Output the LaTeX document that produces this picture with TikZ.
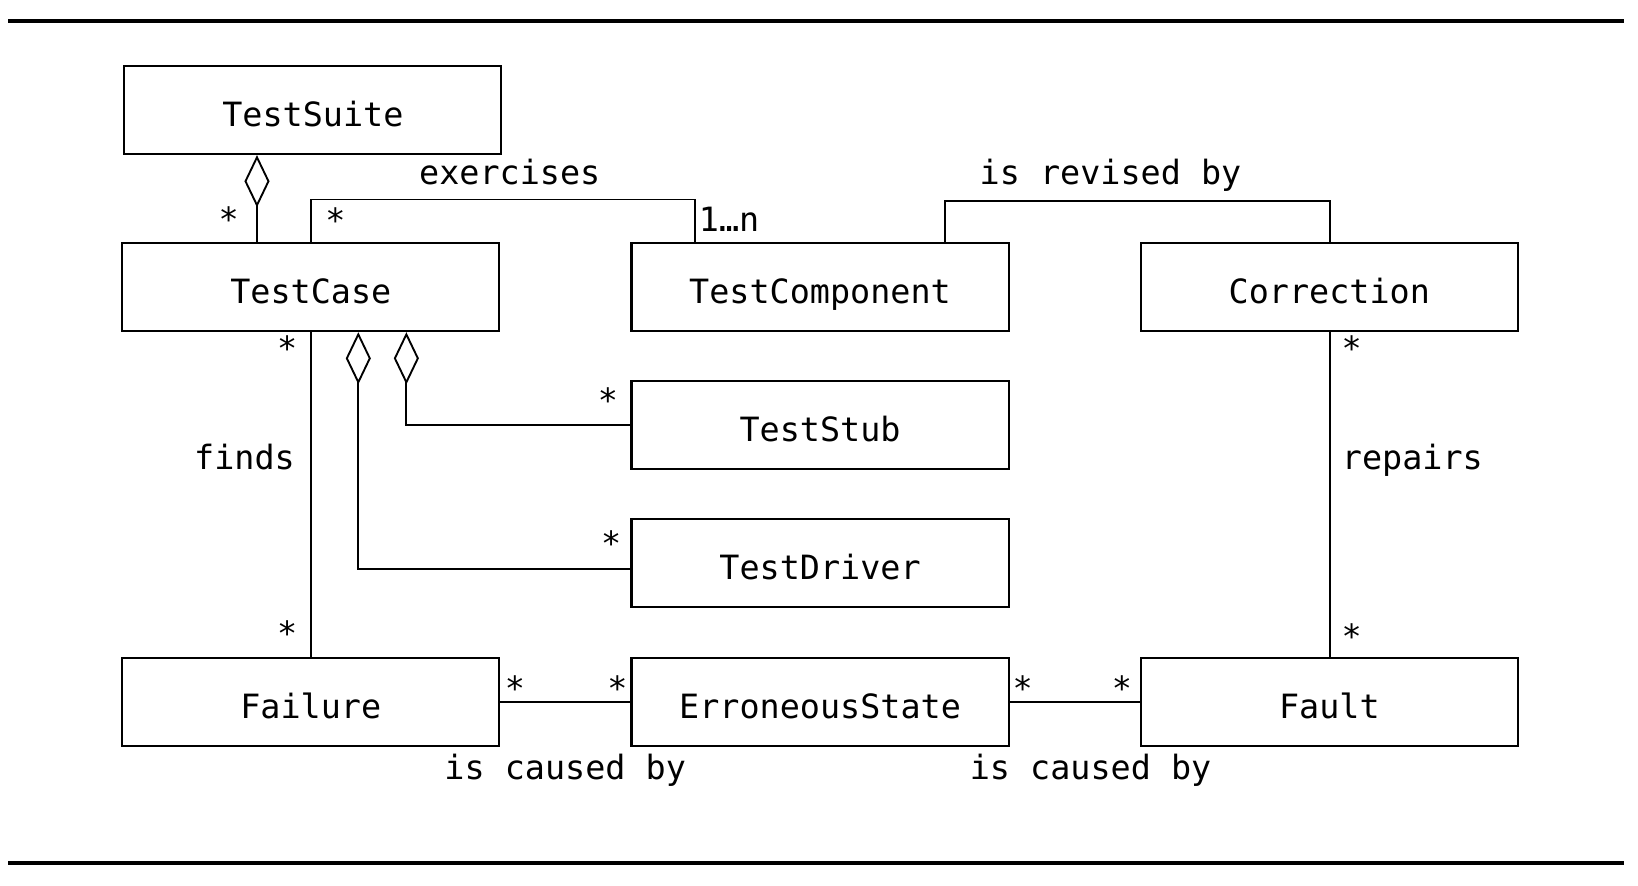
\documentclass[tikz,border=0pt]{standalone}
\usepackage{fontspec}
\setmonofont{DejaVu Sans Mono}
\usetikzlibrary{arrows.meta,calc}
\begin{document}
\begin{tikzpicture}[x=0.5pt,y=-0.5pt,
  every node/.style={font=\ttfamily\fontsize{16}{19}\selectfont},
  box/.style={draw,line width=1pt,minimum width=180.5pt,minimum height=42pt,inner sep=0pt,text height=15.7pt,text depth=0pt},
  conn/.style={line width=0.9pt},
  aggr/.style={conn,{Diamond[open,length=25pt,width=12pt]}-},
  mult/.style={anchor=base,inner sep=0pt},
  lbl/.style={anchor=base,inner sep=0pt},
  rulestyle/.style={line width=2pt}]
\useasboundingbox (0,0) rectangle (1568,848);
% rules
\draw[rulestyle] (8,20) -- (1555,20);
\draw[rulestyle] (8,826) -- (1555,826);
% boxes
\node[box] (ts) at (299.5,105.5) {TestSuite};
\node[box] (tc) at (297.5,275) {TestCase};
\node[box] (tcomp) at (785,275) {TestComponent};
\node[box] (corr) at (1272.5,275) {Correction};
\node[box] (stub) at (785,407) {TestStub};
\node[box] (drv) at (785,539) {TestDriver};
\node[box] (fail) at (297.5,672) {Failure};
\node[box] (err) at (785,672) {ErroneousState};
\node[box] (fault) at (1272.5,672) {Fault};
% connectors
\draw[aggr] ($(ts.south)+(-53.5,0)$) -- ($(tc.north)+(-51.5,0)$);
\draw[conn] ($(tc.north)+(0.5,0)$) |- ($(tcomp.north)+(-120,-41)$) -- ($(tcomp.north)+(-120,0)$);
\draw[conn] ($(tcomp.north)+(120,0)$) |- ($(corr.north)+(0.5,-40)$) -- ($(corr.north)+(0.5,0)$);
\draw[conn] ($(tc.south)+(0.5,0)$) -- ($(fail.north)+(0.5,0)$);
\draw[aggr] ($(tc.south)+(91.5,0)$) |- (stub.west);
\draw[aggr] ($(tc.south)+(45.5,0)$) |- ($(drv.west)+(0,6)$);
\draw[conn] (fail.east) -- (err.west);
\draw[conn] (err.east) -- (fault.west);
\draw[conn] ($(corr.south)+(0.5,0)$) -- ($(fault.north)+(0.5,0)$);
% multiplicities
\node[mult] (m1) at (219,222) {*};
\node[mult] (m2) at (321,223) {*};
\node[mult] (m3) at (275,345) {*};
\node[mult] (m4) at (275,618) {*};
\node[mult] (m5) at (582,395) {*};
\node[mult] (m6) at (585,532) {*};
\node[mult] (m7) at (493,671) {*};
\node[mult] (m8) at (591,671) {*};
\node[mult] (m9) at (979,671) {*};
\node[mult] (m10) at (1074,671) {*};
\node[mult] (m11) at (1294,345) {*};
\node[mult] (m12) at (1294,621) {*};
\node[lbl] (n1) at (698,222) {1…n};
% association labels
\node[lbl] (l1) at (488,177) {exercises};
\node[lbl] (l2) at (1063,177) {is revised by};
\node[lbl] (l3) at (234,449) {finds};
\node[lbl] (l4) at (1352,449) {repairs};
\node[lbl] (l5) at (541,746) {is caused by};
\node[lbl] (l6) at (1044,746) {is caused by};
\end{tikzpicture}
\end{document}
